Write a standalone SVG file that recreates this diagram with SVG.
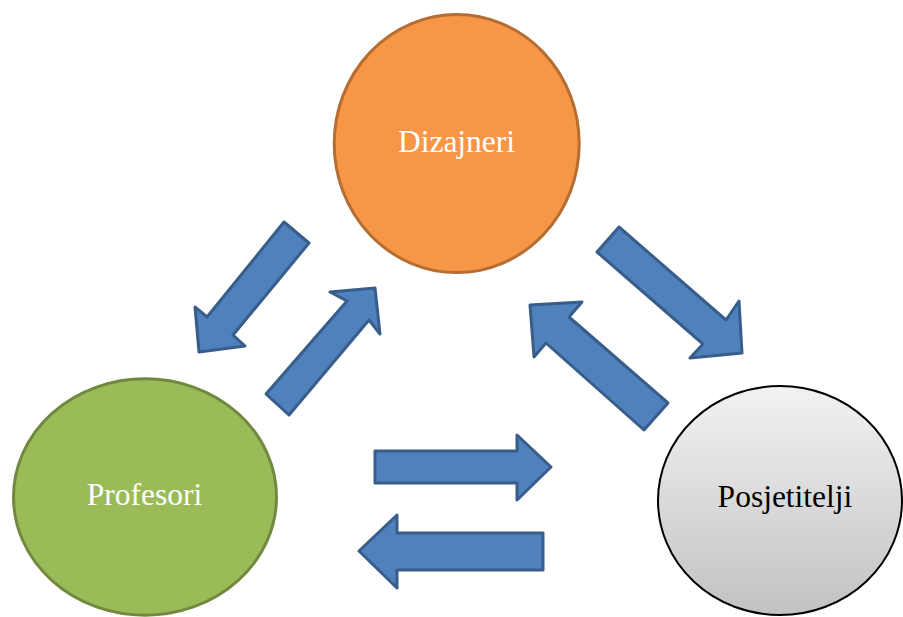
<svg xmlns="http://www.w3.org/2000/svg" width="903" height="617" viewBox="0 0 903 617">
<style>
.arrow{fill:#4F81BD;stroke:#385D8A;stroke-width:3;stroke-linejoin:round}
.lbl{font-family:"Liberation Serif","Times New Roman",serif;font-size:31.5px;text-anchor:middle}
</style>
<defs>
<linearGradient id="gray" x1="0" y1="0" x2="0" y2="1">
<stop offset="0" stop-color="#F2F2F2"/>
<stop offset="1" stop-color="#C2C2C2"/>
</linearGradient>
</defs>
<rect width="903" height="617" fill="#FFFFFF"/>
<g id="connectors">
<polygon class="arrow" points="284,222 309,243 233,335 245,346 199,352 195,307 207,317"/>
<polygon class="arrow" points="266,394 347,301 330,292 375,288 380,334 369,320 289,415"/>
<polygon class="arrow" points="619,227 726,320 739,301 742,353 690,358 703,344 597,252"/>
<polygon class="arrow" points="668,403 569,317 582,302 530,305 534,357 546,343 644,430"/>
<polygon class="arrow" points="375,451 517,451 517,435 551,467 517,500 517,483 375,483"/>
<polygon class="arrow" points="543,533 397,533 397,515 359,551 397,588 397,570 543,570"/>
</g>
<g id="dizajneri">
<ellipse cx="456.7" cy="143.6" rx="122.5" ry="129" fill="#F79646" stroke="#B66D31" stroke-width="3"/>
<text class="lbl" x="456.5" y="152" fill="#FFFFFF">Dizajneri</text>
</g>
<g id="profesori">
<ellipse cx="145" cy="497" rx="131.5" ry="118.2" fill="#9BBB59" stroke="#71893F" stroke-width="3"/>
<text class="lbl" x="144.5" y="505" fill="#FFFFFF">Profesori</text>
</g>
<g id="posjetitelji">
<ellipse cx="780" cy="500.5" rx="122" ry="114.5" fill="url(#gray)" stroke="#000000" stroke-width="2"/>
<text class="lbl" x="785" y="507" fill="#000000">Posjetitelji</text>
</g>
</svg>
